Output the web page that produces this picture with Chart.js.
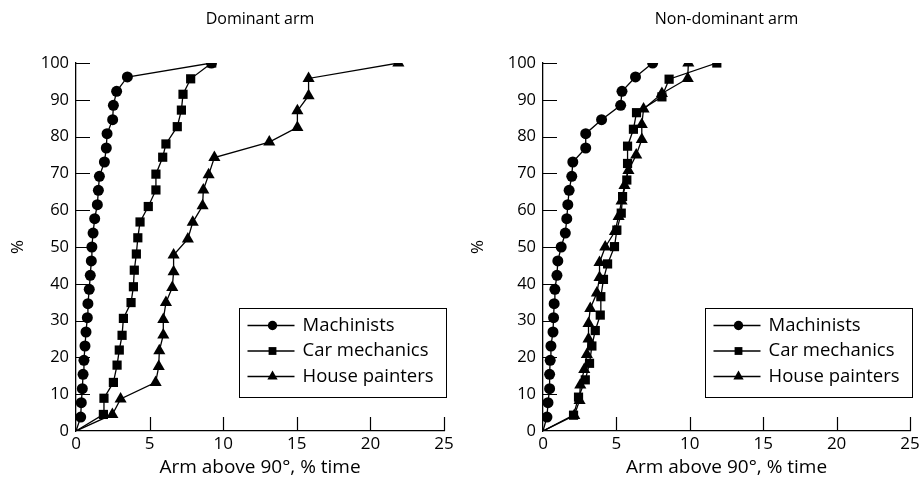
<!DOCTYPE html>
<html>
<head>
<meta charset="utf-8">
<script src="https://cdn.jsdelivr.net/npm/chart.js@4/dist/chart.umd.min.js"></script>
<style>
  body { margin: 0; background: #fff; }
  #wrap { position: relative; width: 924px; height: 485px; }
  canvas { position: absolute; top: 0; }
</style>
</head>
<body>
<div id="wrap">
  <canvas id="dominant" width="462" height="485" style="left:0"></canvas>
  <canvas id="nondominant" width="462" height="485" style="left:462px"></canvas>
</div>
<script>
// series names, axis ticks
const seriesLabels = ["Machinists", "Car mechanics", "House painters"];
const xTicks = [0, 5, 10, 15, 20, 25];
const yTicks = [0, 10, 20, 30, 40, 50, 60, 70, 80, 90, 100];

// Dominant arm (x = % time arm above 90 deg, y = cumulative %)
const domMachinistsX = [0, 0.32, 0.36, 0.43, 0.48, 0.54, 0.61, 0.68, 0.77, 0.81, 0.9, 0.97, 1.04, 1.08, 1.16, 1.27, 1.45, 1.52, 1.59, 1.93, 2.06, 2.11, 2.49, 2.54, 2.76, 3.49, 9.2];
const domMachinistsY = [0, 3.8, 7.7, 11.5, 15.4, 19.2, 23.1, 26.9, 30.8, 34.6, 38.5, 42.3, 46.2, 50, 53.8, 57.7, 61.5, 65.4, 69.2, 73.1, 76.9, 80.8, 84.6, 88.5, 92.3, 96.2, 100];
const domMechanicsX = [0, 1.86, 1.9, 2.54, 2.79, 2.94, 3.13, 3.22, 3.74, 3.9, 3.96, 4.1, 4.2, 4.35, 4.91, 5.43, 5.43, 5.89, 6.11, 6.88, 7.16, 7.27, 7.79, 9.22];
const domMechanicsY = [0, 4.5, 8.9, 13.2, 17.9, 22, 26, 30.6, 34.9, 39.2, 43.7, 48.1, 52.5, 56.8, 61, 65.5, 69.8, 74.4, 78, 82.7, 87.2, 91.5, 95.7, 100];
const domPaintersX = [0, 2.47, 3.03, 5.41, 5.62, 5.66, 5.93, 5.93, 6.11, 6.54, 6.63, 6.63, 7.6, 7.93, 8.6, 8.65, 9.01, 9.4, 13.13, 15.04, 15.04, 15.8, 15.8, 21.9];
const domPaintersY = [0, 4.5, 8.7, 13.2, 17.5, 21.8, 26.1, 30.3, 34.9, 39, 43.3, 47.8, 52.2, 56.7, 61.2, 65.5, 69.6, 74.3, 78.5, 82.5, 87, 91.1, 95.8, 100];

// Non-dominant arm
const ndMachinistsX = [0, 0.27, 0.34, 0.45, 0.45, 0.49, 0.54, 0.68, 0.72, 0.76, 0.81, 0.95, 1.01, 1.24, 1.52, 1.62, 1.69, 1.78, 1.96, 2.03, 2.91, 2.91, 3.99, 5.29, 5.38, 6.3, 7.47];
const ndMachinistsY = [0, 3.8, 7.7, 11.5, 15.4, 19.2, 23.1, 26.9, 30.8, 34.6, 38.5, 42.3, 46.2, 50, 53.8, 57.7, 61.5, 65.4, 69.2, 73.1, 76.9, 80.8, 84.6, 88.5, 92.3, 96.2, 100];
const ndMechanicsX = [0, 2.08, 2.42, 2.88, 3.17, 3.33, 3.56, 3.9, 3.94, 4.12, 4.4, 4.87, 5.03, 5.33, 5.42, 5.71, 5.76, 5.76, 6.16, 6.37, 8.1, 8.59, 11.84];
const ndMechanicsY = [0, 4.3, 9.2, 13.9, 18.4, 23.1, 27.3, 31.5, 36.5, 41.2, 45.4, 50.1, 54.6, 59.2, 63.7, 68.2, 72.7, 77.4, 82, 86.5, 90.8, 95.6, 100];
const ndPaintersX = [0, 2.13, 2.49, 2.54, 2.81, 2.99, 3.1, 3.1, 3.22, 3.67, 3.85, 3.85, 4.24, 4.9, 5.15, 5.35, 5.55, 5.82, 6.35, 6.73, 6.73, 6.85, 8.1, 9.86, 9.9];
const ndPaintersY = [0, 4.2, 8.3, 12.5, 16.7, 20.8, 25, 29.2, 33.3, 37.5, 41.7, 45.8, 50, 54.2, 58.3, 62.5, 66.7, 70.8, 75, 79.2, 83.3, 87.5, 91.7, 95.8, 100];

const FONT = "'Open Sans', sans-serif";
const markers = [
  { style: "circle", radius: 5.5 },
  { style: "rect", radius: 6.5 },
  { style: "triangle", radius: 7 },
];

function toPoints(xs, ys) {
  return xs.map((x, i) => ({ x, y: ys[i] }));
}

function drawMarker(ctx, style, x, y, r) {
  ctx.beginPath();
  if (style === "circle") {
    ctx.arc(x, y, r, 0, Math.PI * 2);
  } else if (style === "rect") {
    const s = r * Math.SQRT1_2;
    ctx.rect(x - s, y - s, 2 * s, 2 * s);
  } else {
    ctx.moveTo(x, y - r);
    ctx.lineTo(x + r * 0.866, y + r / 2);
    ctx.lineTo(x - r * 0.866, y + r / 2);
    ctx.closePath();
  }
  ctx.fill();
}

// ticks point into the plot, as in the original
const inwardTicks = {
  id: "inwardTicks",
  beforeDatasetsDraw(chart) {
    const { ctx, chartArea, scales } = chart;
    ctx.save();
    ctx.strokeStyle = "#000";
    ctx.lineWidth = 1.2;
    ctx.beginPath();
    scales.x.ticks.forEach((t) => {
      if (t.value === 0) return;
      const px = Math.round(scales.x.getPixelForValue(t.value)) + 0.5;
      ctx.moveTo(px, chartArea.bottom);
      ctx.lineTo(px, chartArea.bottom - 14);
    });
    scales.y.ticks.forEach((t) => {
      if (t.value === 0) return;
      const py = Math.round(scales.y.getPixelForValue(t.value)) + 0.5;
      ctx.moveTo(chartArea.left, py);
      ctx.lineTo(chartArea.left + 14, py);
    });
    ctx.stroke();
    ctx.restore();
  },
};

const panelTitle = {
  id: "panelTitle",
  afterDraw(chart, args, opts) {
    const { ctx, chartArea } = chart;
    ctx.save();
    ctx.fillStyle = "#000";
    ctx.font = "16px " + FONT;
    ctx.textAlign = "center";
    ctx.textBaseline = "middle";
    ctx.fillText(opts.text, (chartArea.left + chartArea.right) / 2, 19);
    ctx.restore();
  },
};

// legend box with line + marker per series
const legendBox = {
  id: "legendBox",
  afterDraw(chart) {
    const { ctx, chartArea } = chart;
    const left = Math.round(chartArea.right - 205) + 0.5;
    const top = Math.round(chartArea.top + 245) + 0.5;
    ctx.save();
    ctx.fillStyle = "#fff";
    ctx.fillRect(left, top, 207, 89);
    ctx.strokeStyle = "#000";
    ctx.lineWidth = 1;
    ctx.strokeRect(left, top, 207, 89);
    ctx.font = "18.5px " + FONT;
    ctx.textBaseline = "middle";
    chart.data.datasets.forEach((ds, i) => {
      const y = top + 17 + i * 25.5;
      ctx.strokeStyle = "#000";
      ctx.lineWidth = 1.3;
      ctx.beginPath();
      ctx.moveTo(left + 8, y);
      ctx.lineTo(left + 55, y);
      ctx.stroke();
      ctx.fillStyle = "#000";
      drawMarker(ctx, markers[i].style, left + 33, y, markers[i].radius * 0.85);
      ctx.fillText(ds.label, left + 63, y);
    });
    ctx.restore();
  },
};

function makeChart(id, title, series, yWidth, padRight, yTitlePad) {
  const datasets = series.map((s, i) => ({
    label: seriesLabels[i],
    data: toPoints(s[0], s[1]),
    borderColor: "#000",
    backgroundColor: "#000",
    borderWidth: 1.3,
    tension: 0,
    pointStyle: markers[i].style,
    pointRadius: (c) => (c.dataIndex === 0 ? 0 : markers[i].radius),
    pointBorderWidth: 0,
  }));

  return new Chart(document.getElementById(id), {
    type: "line",
    data: { datasets },
    plugins: [inwardTicks, panelTitle, legendBox],
    options: {
      responsive: false,
      animation: false,
      devicePixelRatio: 1,
      layout: { padding: { left: 0, right: padRight, top: 63, bottom: 0 } },
      plugins: {
        legend: { display: false },
        tooltip: { enabled: false },
        panelTitle: { text: title },
      },
      scales: {
        x: {
          type: "linear",
          min: 0,
          max: 25,
          afterBuildTicks: (s) => { s.ticks = xTicks.map((v) => ({ value: v })); },
          afterFit: (s) => { s.height = 54; },
          grid: { drawOnChartArea: false, drawTicks: false },
          border: { color: "#000", width: 1.3 },
          ticks: { color: "#000", padding: 3, font: { family: FONT, size: 17 } },
          title: {
            display: true,
            text: "Arm above 90°, % time",
            color: "#000",
            padding: { top: 0, bottom: 6 },
            font: { family: FONT, size: 19 },
          },
        },
        y: {
          min: 0,
          max: 100,
          afterBuildTicks: (s) => { s.ticks = yTicks.map((v) => ({ value: v })); },
          afterFit: (s) => { s.width = yWidth; },
          grid: { drawOnChartArea: false, drawTicks: false },
          border: { color: "#000", width: 1.3 },
          ticks: { color: "#000", padding: 7, font: { family: FONT, size: 16.5 } },
          title: {
            display: true,
            text: "%",
            color: "#000",
            padding: { top: yTitlePad, bottom: 0 },
            font: { family: FONT, size: 17 },
          },
        },
      },
    },
  });
}

makeChart("dominant", "Dominant arm", [
  [domMachinistsX, domMachinistsY],
  [domMechanicsX, domMechanicsY],
  [domPaintersX, domPaintersY],
], 76, 18, 8);

makeChart("nondominant", "Non-dominant arm", [
  [ndMachinistsX, ndMachinistsY],
  [ndMechanicsX, ndMechanicsY],
  [ndPaintersX, ndPaintersY],
], 81, 14, 6);
</script>
</body>
</html>
